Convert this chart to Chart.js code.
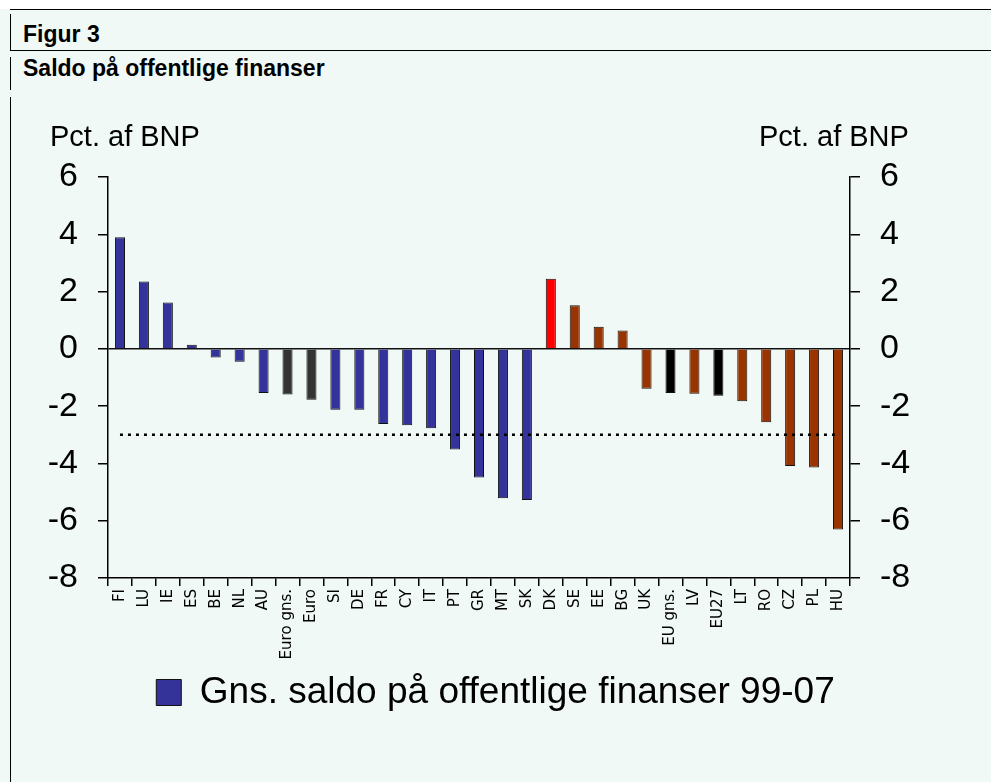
<!DOCTYPE html>
<html>
<head>
<meta charset="utf-8">
<script src="https://cdn.jsdelivr.net/npm/chart.js@4.4.1/dist/chart.umd.min.js"></script>
<style>
  html, body { margin:0; padding:0; }
  body { width:991px; height:782px; position:relative; overflow:hidden; background:#F1F9F6; font-family:"Liberation Sans", Arial, sans-serif; }
  #topwhite { position:absolute; left:0; top:0; width:991px; height:9px; background:#fff; }
  .hline { position:absolute; height:1px; background:#000; }
  .vline { position:absolute; width:1px; background:#000; }
  .hdr { position:absolute; left:23px; font-weight:bold; font-size:23px; line-height:23px; color:#000; white-space:nowrap; }
  #wrap { position:absolute; left:0; top:0; width:991px; height:782px; }
</style>
</head>
<body>
<div id="topwhite"></div>
<div class="hline" style="left:10px; top:9px; width:981px;"></div>
<div class="hline" style="left:10px; top:50px; width:981px;"></div>
<div class="vline" style="left:10px; top:14px; height:36px;"></div>
<div class="vline" style="left:10px; top:57px; height:33px;"></div>
<div class="vline" style="left:10px; top:97px; height:685px;"></div>
<div class="hdr" style="top:23px;">Figur 3</div>
<div class="hdr" style="top:57px;">Saldo på offentlige finanser</div>
<div id="wrap"><canvas id="c" width="991" height="782"></canvas></div>
<script>
// ---- data ----
const categories = ['FI','LU','IE','ES','BE','NL','AU','Euro gns.','Euro','SI','DE','FR','CY','IT','PT','GR','MT','SK','DK','SE','EE','BG','UK','EU gns.','LV','EU27','LT','RO','CZ','PL','HU'];
const saldo = [3.9, 2.35, 1.62, 0.14, -0.30, -0.45, -1.54, -1.59, -1.78, -2.13, -2.13, -2.62, -2.67, -2.77, -3.51, -4.49, -5.22, -5.28, 2.45, 1.52, 0.77, 0.64, -1.39, -1.54, -1.57, -1.64, -1.83, -2.56, -4.09, -4.14, -6.31];
const groups = ['euro','euro','euro','euro','euro','euro','euro','euroavg','euroavg','euro','euro','euro','euro','euro','euro','euro','euro','euro','dk','noneuro','noneuro','noneuro','noneuro','euavg','noneuro','euavg','noneuro','noneuro','noneuro','noneuro','noneuro'];
const deficitLimit = -3;
const yTicks = [6, 4, 2, 0, -2, -4, -6, -8];
const seriesLabel = 'Gns. saldo på offentlige finanser 99-07';
const axisTitle = 'Pct. af BNP';

// ---- styles ----
const groupColors = { euro:'#333399', euroavg:'#333333', dk:'#FF0000', noneuro:'#993300', euavg:'#000000' };
const SANS = '"Liberation Sans", Arial, sans-serif';

const limitLine = [
  { x: categories[0], y: deficitLimit },
  { x: categories[categories.length - 1], y: deficitLimit }
];

const axisTitlePlugin = {
  id: 'axisTitles',
  afterDraw(chart) {
    const ctx = chart.ctx;
    ctx.save();
    ctx.fillStyle = '#000';
    ctx.font = '29px ' + SANS;
    ctx.textBaseline = 'alphabetic';
    ctx.textAlign = 'left';
    ctx.fillText(axisTitle, 50, 146);
    ctx.fillText(axisTitle, 759, 146);
    ctx.restore();
  }
};

const yMin = Math.min(...yTicks), yMax = Math.max(...yTicks);
const tickFont = { family: SANS, size: 34 };

new Chart(document.getElementById('c'), {
  data: {
    labels: categories,
    datasets: [
      {
        type: 'line',
        label: 'limit',
        data: limitLine,
        borderColor: '#000',
        borderWidth: 2.5,
        borderDash: [3, 5],
        pointRadius: 0,
        fill: false,
        order: 0,
        yAxisID: 'y'
      },
      {
        type: 'bar',
        label: seriesLabel,
        data: saldo,
        backgroundColor: (c) => groupColors[groups[c.dataIndex]] || '#333399',
        borderColor: '#111',
        borderWidth: 1,
        barPercentage: 0.42,
        categoryPercentage: 1,
        order: 1,
        yAxisID: 'y'
      }
    ]
  },
  options: {
    responsive: false,
    animation: false,
    devicePixelRatio: 1,
    layout: { padding: { top: 177, left: 0, right: 0, bottom: 61 } },
    plugins: {
      tooltip: { enabled: false },
      title: { display: false },
      legend: {
        display: true,
        position: 'bottom',
        labels: {
          color: '#000',
          font: { family: SANS, size: 37 },
          boxWidth: 25,
          boxHeight: 26,
          padding: 10,
          generateLabels: () => [{
            text: seriesLabel,
            fillStyle: groupColors.euro,
            strokeStyle: '#111',
            lineWidth: 1,
            hidden: false,
            datasetIndex: 1
          }]
        }
      }
    },
    scales: {
      x: {
        type: 'category',
        offset: true,
        grid: { display: true, drawOnChartArea: false, drawTicks: true, tickLength: 8, offset: true, color: '#000', lineWidth: 1.5 },
        border: { display: true, color: '#000', width: 1.5 },
        ticks: {
          autoSkip: false, minRotation: 90, maxRotation: 90, padding: 3, color: '#000',
          font: { family: '"DejaVu Sans", sans-serif', size: 15 }
        },
        afterFit: (s) => { s.height = 86; }
      },
      y: {
        position: 'left',
        min: yMin, max: yMax,
        grid: {
          drawOnChartArea: true, drawTicks: true, tickLength: 10,
          color: (c) => (c.tick && c.tick.value === 0) ? '#111' : 'rgba(0,0,0,0)',
          tickColor: '#000', lineWidth: 1.5
        },
        border: { display: true, color: '#000', width: 1.5 },
        ticks: { stepSize: 2, padding: 20, color: '#000', font: tickFont },
        afterFit: (s) => { s.width = 108; }
      },
      y2: {
        position: 'right',
        min: yMin, max: yMax,
        grid: { drawOnChartArea: false, drawTicks: true, tickLength: 10, color: '#000', tickColor: '#000', lineWidth: 1.5 },
        border: { display: true, color: '#000', width: 1.5 },
        ticks: { stepSize: 2, padding: 20, color: '#000', font: tickFont },
        afterFit: (s) => { s.width = 141; }
      }
    }
  },
  plugins: [axisTitlePlugin]
});
</script>
</body>
</html>
